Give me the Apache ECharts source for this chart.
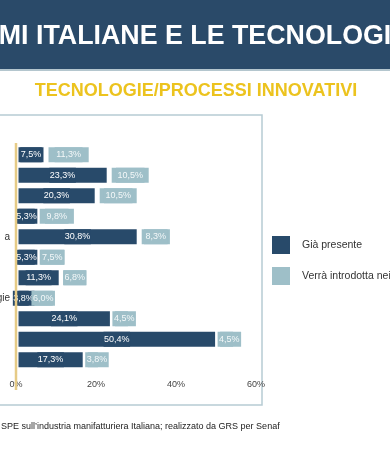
<!DOCTYPE html>
<html><head><meta charset="utf-8">
<script src="https://cdn.jsdelivr.net/npm/echarts@6/dist/echarts.min.js"></script>
<style>html,body{margin:0;padding:0;background:#fff;overflow:hidden}#c{width:390px;height:471px}</style>
</head><body><div id="c"></div>
<script>
// Category labels: only the tails visible in the cropped reference
const categories = ['', '', '', '', 'a', '', '', 'gie', '', '', ''];
const presentValues = [7.5, 23.3, 20.3, 5.3, 30.8, 5.3, 11.3, 3.8, 24.1, 50.4, 17.3];
const futureValues = [11.3, 10.5, 10.5, 9.8, 8.3, 7.5, 6.8, 6.0, 4.5, 4.5, 3.8];
const seriesNames = ['Già presente', 'Verrà introdotta nei prossimi anni'];
const xTicks = [0, 20, 40, 60];
const headerTitle = 'MI ITALIANE E LE TECNOLOGI';
const subTitle = 'TECNOLOGIE/PROCESSI INNOVATIVI';
const sourceText = 'SPE sull\u2019industria manifatturiera Italiana; realizzato da GRS per Senaf';

const DARK = '#284a6a';
const LIGHT = '#9ebfc8';
const FONT = '"Liberation Sans", Arial, sans-serif';
const fmt = v => v.toFixed(1).replace('.', ',') + '%';

// light segments too short for their label: let the label grow to the right
const lightData = futureValues.map(v => v < 5 ? {value: v, label: {position: 'insideLeft', distance: 0}} : v);

const chart = echarts.init(document.getElementById('c'), null, {renderer: 'canvas'});
chart.setOption({
  animation: false,
  backgroundColor: '#fff',
  textStyle: {fontFamily: FONT},
  graphic: [
    {type: 'rect', left: 0, top: 0, shape: {width: 390, height: 69}, style: {fill: '#2a4a69'}, silent: true},
    {type: 'rect', left: 0, top: 69, shape: {width: 390, height: 2}, style: {fill: '#b4c6ce'}, silent: true},
    {type: 'text', x: 195, y: 37, style: {text: headerTitle, fill: '#fff', font: 'bold 26.8px ' + FONT, textAlign: 'center', textVerticalAlign: 'middle'}, silent: true},
    {type: 'text', x: 196, y: 91, style: {text: subTitle, fill: '#ecc31e', font: 'bold 18px ' + FONT, textAlign: 'center', textVerticalAlign: 'middle'}, silent: true},
    {type: 'rect', shape: {x: -3, y: 115, width: 265, height: 290}, style: {fill: 'none', stroke: '#b7cbd3', lineWidth: 1.5}, silent: true},
    {type: 'line', shape: {x1: 16, y1: 143, x2: 16, y2: 390}, style: {stroke: '#e6cb86', lineWidth: 2.5}, silent: true, z: 100},
    {type: 'text', x: 1, y: 427, style: {text: sourceText, fill: '#222', font: '9px ' + FONT, textVerticalAlign: 'middle'}, silent: true}
  ],
  legend: {
    orient: 'vertical', left: 272, top: 236, itemWidth: 18, itemHeight: 18, itemGap: 13,
    padding: 0,
    icon: 'rect',
    itemStyle: {borderWidth: 0},
    textStyle: {fontSize: 10.5, color: '#333', fontFamily: FONT, padding: [0, 0, 0, 7], width: 100, overflow: 'truncate', ellipsis: ''},
    data: seriesNames
  },
  grid: {left: 16, right: 134, top: 144.5, height: 225.5, containLabel: false, outerBoundsMode: 'none'},
  xAxis: {
    type: 'value', min: xTicks[0], max: xTicks[xTicks.length - 1], interval: 20,
    axisLine: {show: false}, axisTick: {show: false}, splitLine: {show: false},
    axisLabel: {formatter: '{value}%', fontSize: 9, color: '#444', margin: 10}
  },
  yAxis: {
    type: 'category', inverse: true, data: categories,
    axisLine: {show: false}, axisTick: {show: false},
    axisLabel: {fontSize: 10, color: '#333', margin: 6}
  },
  series: [
    {
      name: seriesNames[0], type: 'bar', stack: 't', data: presentValues, barWidth: 20,
      itemStyle: {color: DARK, borderColor: '#fff', borderWidth: 2.5},
      label: {show: true, position: 'inside', color: '#fff', fontSize: 9, lineHeight: 15, backgroundColor: DARK, padding: [0, 0.5], formatter: p => fmt(p.value)}
    },
    {
      name: seriesNames[1], type: 'bar', stack: 't', data: lightData, barWidth: 20,
      itemStyle: {color: LIGHT, borderColor: '#fff', borderWidth: 2.5},
      label: {show: true, position: 'inside', color: '#f4f8f9', fontSize: 9, lineHeight: 15, backgroundColor: LIGHT, padding: [0, 1.5], formatter: p => fmt(p.value)}
    }
  ]
});
</script></body></html>
